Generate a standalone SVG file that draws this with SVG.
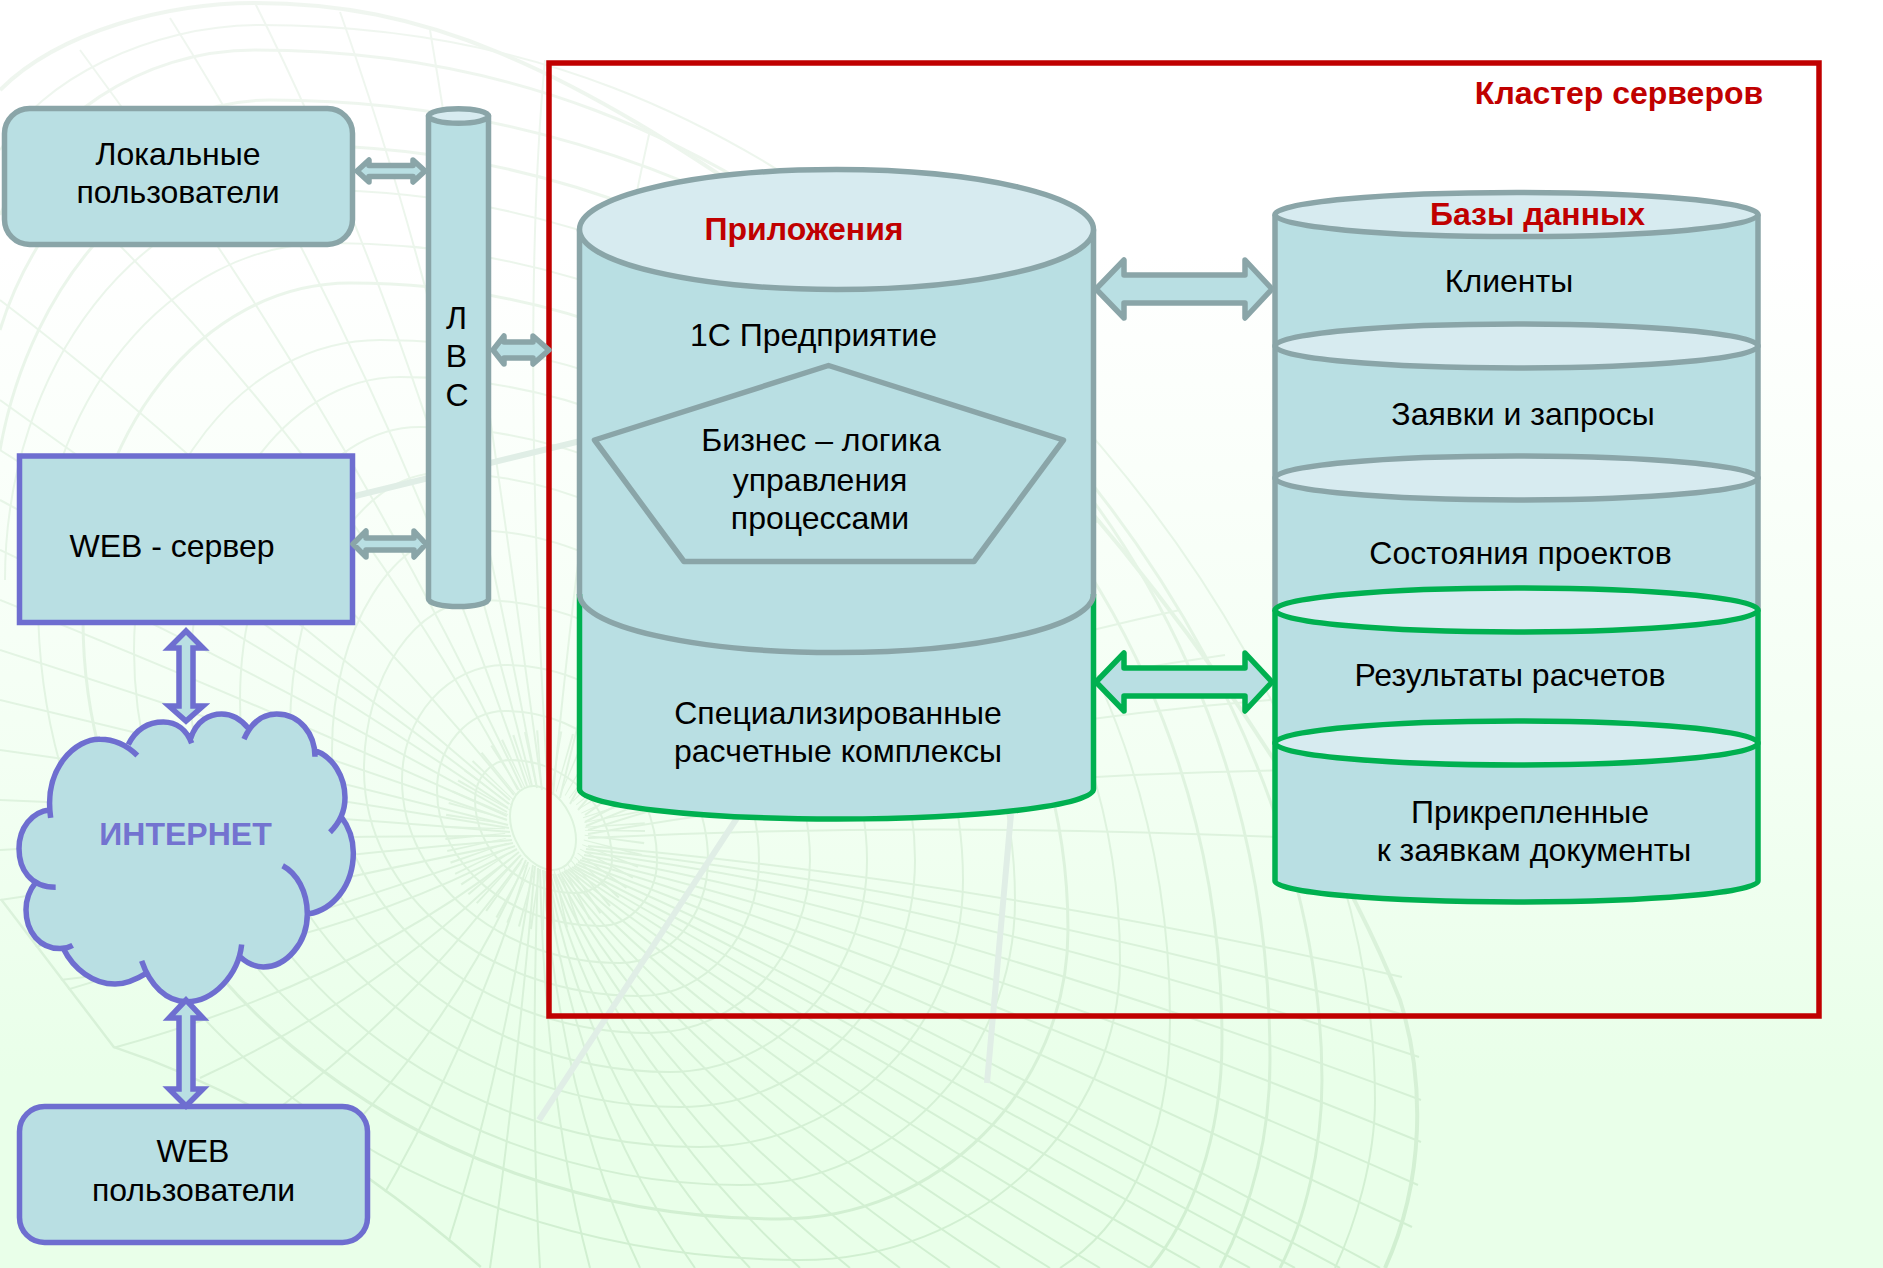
<svg xmlns="http://www.w3.org/2000/svg" width="1883" height="1268" viewBox="0 0 1883 1268">
<style>
text{font-family:"Liberation Sans",Arial,sans-serif;font-size:32px;fill:#000;text-anchor:middle}
.b{font-weight:bold}
.r{fill:#C00000}
.f{fill:#B9DFE3}
.t{fill:#D7EBF0}
.g{stroke:#8AA5A8;stroke-width:5.500;stroke-linejoin:round}
.n{stroke:#00B050;stroke-width:5.500;stroke-linejoin:round}
.u{stroke:#6E6ED0;stroke-width:5.500;stroke-linejoin:miter}
.o{fill:none}
.m{fill:none;stroke:url(#ml);stroke-width:2}
</style>
<defs>
<linearGradient id="bg" x1="0" y1="0" x2="0" y2="1">
<stop offset="0" stop-color="#FFFFFF"/><stop offset="0.2" stop-color="#FFFFFF"/><stop offset="0.6" stop-color="#F3FFF3"/><stop offset="0.85" stop-color="#E9FFE9"/><stop offset="1" stop-color="#E9FFE9"/>
</linearGradient>
<linearGradient id="ml" gradientUnits="userSpaceOnUse" x1="0" y1="0" x2="0" y2="1268">
<stop offset="0" stop-color="#F0F6F0"/><stop offset="0.45" stop-color="#E6F5E6"/><stop offset="1" stop-color="#D0EFD0"/>
</linearGradient>
<clipPath id="mc"><path d="M0 0H1883V1268H480Q300 1110 113 1048L0 900Z"/></clipPath>
</defs>
<g id="background">
<rect width="1883" height="1268" fill="url(#bg)"/>
<g clip-path="url(#mc)">
<circle class="m" cx="545" cy="830" r="70" style="stroke-width:60;stroke-dasharray:1.500 7"/>
<ellipse cx="543" cy="828" rx="30" ry="44" transform="rotate(-25 543 828)" fill="#F0FFF0" stroke="#DDF3DD" stroke-width="2"/>
<path class="m" d="M475 800C475 778 491 760 510 760C566 760 612 805 612 860C612 878 595 893 575 893C520 893 475 851 475 800Z"/>
<path class="m" d="M437 790C437 746 468 711 505 711C589 711 657 780 657 860C657 896 631 926 600 926C510 926 437 865 437 790Z"/>
<path class="m" d="M402 780C402 717 448 665 505 665C617 665 708 765 708 860C708 917 668 963 620 963C501 963 402 880 402 780Z"/>
<path class="m" d="M364 770C364 676 416 600 480 600C633 600 759 730 759 860C759 935 706 996 640 996C489 996 364 895 364 770Z"/>
<path class="m" d="M332 750C332 629 394 530 470 530C657 530 810 711 810 860C810 954 738 1033 650 1033C474 1033 332 906 332 750Z"/>
<path class="m" d="M290 730C290 589 357 473 440 473C675 473 867 680 867 860C867 976 779 1072 670 1072C467 1072 290 916 290 730Z"/>
<path class="m" d="M240 700C240 550 321 427 420 427C692 427 915 650 915 860C915 996 810 1107 680 1107C447 1107 240 924 240 700Z"/>
<path class="m" d="M190 680C190 513 284 377 400 377C715 377 963 620 963 880C963 1027 845 1147 700 1147C429 1147 190 940 190 680Z"/>
<path class="m" d="M134 650C134 480 244 340 380 340C730 340 1015 595 1015 900C1015 1057 892 1185 740 1185C421 1185 134 945 134 650Z"/>
<path class="m" d="M83 620C83 435 202 283 350 283C745 283 1068 575 1068 930C1068 1089 939 1219 780 1219C410 1219 83 960 83 620Z" style="stroke-width:3"/>
<path class="m" d="M38 600C38 403 169 243 330 243C765 243 1120 565 1120 960C1120 1125 977 1260 800 1260C390 1260 38 990 38 600Z"/>
<path class="m" d="M5 580C5 365 142 190 310 190C780 190 1170 540 1170 1020C1170 1150 1120 1230 1060 1268"/>
<path class="m" d="M0 450C30 280 150 145 290 145C790 145 1222 520 1222 1040C1222 1140 1190 1220 1150 1268" style="stroke-width:3"/>
<path class="m" d="M0 330C40 200 150 100 270 100C800 100 1270 480 1270 1060C1270 1140 1250 1210 1220 1268" style="stroke-width:3"/>
<path class="m" d="M0 215C40 120 140 50 255 50C500 50 700 130 900 290C1150 490 1322 800 1322 1080C1322 1150 1305 1220 1280 1268" style="stroke-width:3"/>
<path class="m" d="M0 150C40 80 150 25 260 25C520 25 720 110 920 270C1180 480 1375 800 1375 1100C1375 1160 1355 1225 1335 1268"/>
<path class="m" d="M0 90C60 30 170 3 255 3C420 3 560 60 800 230C1050 420 1300 750 1400 1000C1425 1080 1425 1180 1385 1268" style="stroke-width:4"/>
<path class="m" d="M585 815Q830 640 1100 520M585 822Q850 680 1180 610M588 830Q900 730 1270 700M588 838Q950 820 1340 840M588 846Q980 880 1402 977M585 852Q950 900 1419 1057M582 858Q900 930 1421 1142M578 862Q850 960 1412 1227M574 866Q800 980 1340 1268M570 868Q760 1000 1250 1268M566 870Q720 1020 1150 1268M562 872Q680 1040 1050 1268M558 874Q650 1060 950 1268M553 874Q620 1080 850 1268M548 872Q590 1100 750 1268M543 870Q560 1100 640 1268M538 868Q530 1100 540 1268M533 865Q500 1090 440 1268M528 862Q470 1060 340 1268M523 858Q420 1000 283 1105M519 852Q360 980 113 1048M515 846Q300 920 0 1010M512 840Q260 860 0 900M510 832Q250 810 0 800M508 825Q250 760 0 700M507 816Q250 700 0 600M508 808Q260 640 0 500M510 800Q270 590 0 400M514 795Q290 520 0 300M518 790Q320 420 20 150M522 788Q340 400 80 50M527 786Q380 350 170 18M532 786Q420 330 255 3M537 788Q450 320 340 12M542 790Q480 330 430 30M548 792Q520 330 545 60M553 795Q590 400 650 130M560 798Q640 450 800 230M570 804Q720 520 950 380M578 810Q770 580 1030 450"/>
<path class="m" d="M526 860Q450 1040 290 1190M521 855Q390 990 200 1078M517 849Q330 950 60 980M513 843Q280 890 0 955M511 836Q255 835 0 850M509 828Q250 785 0 750M507 820Q250 730 0 650M507 812Q255 670 0 550M509 804Q265 615 0 450M580 860Q875 945 1418 1185M584 855Q925 915 1421 1100M586 849Q965 890 1412 1017M576 864Q825 970 1380 1268M572 867Q780 990 1295 1268M568 869Q740 1010 1200 1268M564 871Q700 1030 1100 1268M560 873Q665 1050 1000 1268M555 874Q635 1070 900 1268M550 873Q605 1090 800 1268M545 871Q575 1100 695 1268M540 869Q545 1100 590 1268M535 866Q515 1095 490 1268M588 834Q925 775 1305 770M586 826Q875 705 1225 655"/>
<path d="M0 900L113 1048Q300 1110 480 1268" class="m" style="stroke-width:5"/>
</g>
<path d="M737 818L539 1120M1011 814L987 1083M355 496L597 437" fill="none" stroke="#E0EEE6" stroke-width="6"/>
</g>
<g id="cluster">
<rect x="549" y="63" width="1270" height="953" fill="none" stroke="#C00000" stroke-width="5.500"/>
<text class="b r" x="1619" y="103.500">Кластер серверов</text>
</g>
<g id="local-users">
<rect x="4.500" y="108.500" width="348" height="136" rx="25" class="f g"/>
<text x="178" y="164.500">Локальные</text>
<text x="178" y="203">пользователи</text>
</g>
<g id="lan">
<path d="M428.500 116V599A30 7.500 0 0 0 488.500 599V116Z" class="f g"/>
<ellipse cx="458.500" cy="116" rx="30" ry="7.300" class="t g"/>
<text x="456.500" y="329">Л</text>
<text x="456.500" y="367">В</text>
<text x="457" y="406">С</text>
</g>
<g id="web-server">
<rect x="19.500" y="456" width="333" height="166.500" class="f u"/>
<text x="172" y="557">WEB - сервер</text>
</g>
<g id="internet">
<g transform="translate(0 620) scale(.33333 .40816)">
<path class="f" d="M152 485C130 360 230 290 300 292C350 292 385 310 412 332L385 305C410 265 450 250 490 250C530 250 560 270 575 302L572 290C590 245 630 230 665 230C700 230 725 245 745 265L732 292C755 250 790 230 830 230C900 230 945 280 945 335L945 320C1000 335 1035 385 1035 435C1035 470 1015 500 990 520L1022 480C1050 510 1060 540 1060 570C1060 650 1000 710 925 720L848 602C890 620 922 665 922 720C922 790 860 850 790 850C765 850 740 840 720 825L725 795C715 870 640 935 560 935C500 935 450 895 425 835L440 865C410 880 380 892 345 892C280 892 220 855 190 805L218 797C200 805 190 805 180 805C120 805 78 765 78 710C78 680 90 660 108 642L167 655C90 655 57 610 57 560C57 510 95 470 150 465Z"/>
<path fill="none" stroke="#6E6ED0" stroke-width="5.500" vector-effect="non-scaling-stroke" d="M152 485C130 360 230 290 300 292C350 292 385 310 412 332M385 305C410 265 450 250 490 250C530 250 560 270 575 302M572 290C590 245 630 230 665 230C700 230 725 245 745 265M732 292C755 250 790 230 830 230C900 230 945 280 945 335M945 320C1000 335 1035 385 1035 435C1035 470 1015 500 990 520M1022 480C1050 510 1060 540 1060 570C1060 650 1000 710 925 720M848 602C890 620 922 665 922 720C922 790 860 850 790 850C765 850 740 840 720 825M725 795C715 870 640 935 560 935C500 935 450 895 425 835M440 865C410 880 380 892 345 892C280 892 220 855 190 805M218 797C200 805 190 805 180 805C120 805 78 765 78 710C78 680 90 660 108 642M167 655C90 655 57 610 57 560C57 510 95 470 150 465"/>
</g>
<text class="b" x="185.500" y="845" style="fill:#7373D0">ИНТЕРНЕТ</text>
</g>
<g id="web-users">
<rect x="19.500" y="1106.500" width="348" height="136" rx="25" class="f u"/>
<text x="193" y="1162">WEB</text>
<text x="193.500" y="1201">пользователи</text>
</g>
<g id="applications">
<path d="M579.500 229.500V789A257 30 0 0 0 1093.500 789V229.500Z" class="f"/>
<path d="M579.500 229.500V594M1093.500 229.500V594" class="g o"/>
<path d="M579.500 594V789A257 30 0 0 0 1093.500 789V594" class="n o"/>
<path d="M579.500 594A257 58.500 0 0 0 1093.500 594" class="g o"/>
<ellipse cx="836.500" cy="229.500" rx="257" ry="60" class="t g"/>
<text class="b r" x="804" y="240">Приложения</text>
<text x="813.500" y="346">1С Предприятие</text>
<polygon points="828.500,365.500 1063.500,440 974,561.500 684,561.500 594.500,440" class="f g"/>
<text x="821" y="451">Бизнес – логика</text>
<text x="820" y="490.500">управления</text>
<text x="820" y="528.500">процессами</text>
<text x="838" y="723.500">Специализированные</text>
<text x="838" y="761.500">расчетные комплексы</text>
</g>
<g id="databases">
<path d="M1275 214.600V881A241.500 21 0 0 0 1758 881V214.600Z" class="f"/>
<path d="M1275 214.600V610M1758 214.600V610" class="g o"/>
<path d="M1275 610V881A241.500 21 0 0 0 1758 881V610" class="n o"/>
<ellipse cx="1516.500" cy="214.600" rx="241.500" ry="22" class="t g"/>
<ellipse cx="1516.500" cy="346" rx="241.500" ry="22" class="t g"/>
<ellipse cx="1516.500" cy="478" rx="241.500" ry="22" class="t g"/>
<ellipse cx="1516.500" cy="610" rx="241.500" ry="22" class="t n"/>
<ellipse cx="1516.500" cy="743" rx="241.500" ry="22" class="t n"/>
<text class="b r" x="1537.500" y="225">Базы данных</text>
<text x="1509" y="292">Клиенты</text>
<text x="1523" y="425">Заявки и запросы</text>
<text x="1520.500" y="564">Состояния проектов</text>
<text x="1510" y="685.500">Результаты расчетов</text>
<text x="1530" y="822.500">Прикрепленные</text>
<text x="1534" y="861">к заявкам документы</text>
</g>
<g id="connectors">
<polygon class="f g" points="357,171 369,160 369,165.500 413,165.500 413,160 425,171 413,182 413,176.500 369,176.500 369,182"/>
<polygon class="f g" points="493,350 504,336 504,342 533,342 533,336 549,350 533,364 533,358 504,358 504,364"/>
<polygon class="f g" points="353,544 366,531 366,538 414,538 414,531 426,544 414,557 414,550 366,550 366,557"/>
<polygon class="f u" points="186,631 169,648 179,648 179,706 169,706 186,721 203,706 193,706 193,648 203,648"/>
<polygon class="f u" points="186,1000 169,1018 179,1018 179,1089 169,1089 186,1106 203,1089 193,1089 193,1018 203,1018"/>
<polygon class="f g" points="1096,289 1124,260 1124,275 1245,275 1245,260 1272,289 1245,318 1245,303 1124,303 1124,318"/>
<polygon class="f n" points="1096,682 1124,653 1124,668 1245,668 1245,653 1272,682 1245,711 1245,696 1124,696 1124,711"/>
</g>
</svg>
